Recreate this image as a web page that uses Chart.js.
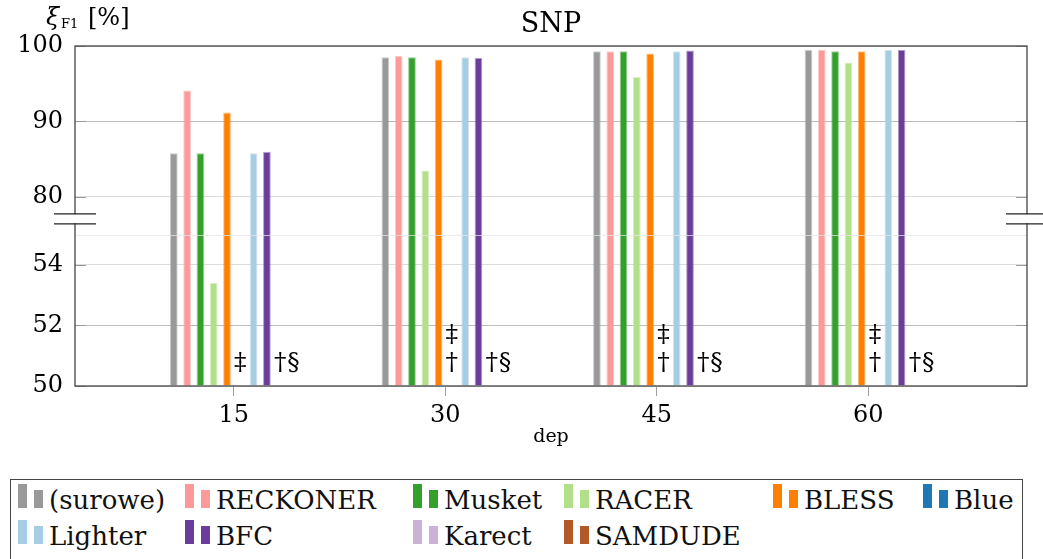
<!DOCTYPE html>
<html>
<head>
<meta charset="utf-8">
<title>SNP</title>
<script src="https://cdn.jsdelivr.net/npm/chart.js@4.4.1/dist/chart.umd.min.js"></script>
<style>
  html, body { margin: 0; padding: 0; background: #fff; overflow: hidden; }
  #wrap { position: relative; width: 1043px; height: 559px; }
  #chart { position: absolute; left: 0; top: 0; }
  #legend {
    position: absolute; left: 10px; top: 479px; width: 1013px; height: 110px;
    box-sizing: border-box; border: 1.3px solid #444; padding: 2.4px 0 0 7px;
    display: grid; grid-template-columns: 167px 228px 151px 209px 150px auto;
    grid-auto-rows: 36px;
    font-family: 'DejaVu Serif', 'Liberation Serif', serif;
    font-size: 26px; color: #111;
  }
  .item { position: relative; height: 36px; line-height: 36px; white-space: nowrap; }
  .item .b1, .item .b2 { position: absolute; bottom: 10px; width: 8.5px; }
  .item .b1 { left: 0; height: 24px; }
  .item .b2 { left: 16px; height: 18px; }
  .item .txt { position: absolute; left: 31px; top: 0; }
</style>
</head>
<body>
<div id="wrap">
  <canvas id="chart" width="1043" height="470"></canvas>
  <div id="legend"></div>
</div>
<script>
// Daten
const depths = [15, 30, 45, 60];
const methods = ['(surowe)', 'RECKONER', 'Musket', 'RACER', 'BLESS', 'Blue', 'Lighter', 'BFC', 'Karect', 'SAMDUDE'];

const surowe   = [85.8, 98.5, 99.3, 99.5];
const reckoner = [94.1, 98.7, 99.3, 99.5];
const musket   = [85.8, 98.5, 99.3, 99.3];
const racer    = [53.4, 83.5, 95.9, 97.8];
const bless    = [91.2, 98.2, 99.0, 99.3];
const blue     = [null, null, null, null];
const lighter  = [85.8, 98.5, 99.3, 99.5];
const bfc      = [86.0, 98.4, 99.4, 99.5];
const karect   = [null, null, null, null];
const samdude  = [null, null, null, null];

const yTicks = [50, 52, 54, 80, 90, 100];
const xTicks = [15, 30, 45, 60];

// Zeichen für fehlende Ergebnisse
const blueMarks    = [['‡'], ['‡', '†'], ['‡', '†'], ['‡', '†']];
const karectMarks  = [['†'], ['†'], ['†'], ['†']];
const samdudeMarks = [['§'], ['§'], ['§'], ['§']];

const colors = ['#999999', '#fb9a99', '#33a02c', '#b2df8a', '#ff7f00', '#1f78b4', '#a6cee3', '#6a3d9a', '#cab2d6', '#b15928'];
const series = [surowe, reckoner, musket, racer, bless, blue, lighter, bfc, karect, samdude];

const serif = "'DejaVu Serif', 'Liberation Serif', serif";

// unterbrochene y-Achse: 50..55 unten, 75..100 oben
const lowEnd = 55;
const highStart = 75;
const lowShare = 0.445;
const breakAt = 77.1;

class BrokenLinearScale extends Chart.LinearScale {
  static id = 'brokenLinear';
  static defaults = Chart.LinearScale.defaults;

  toShare(v) {
    if (v <= lowEnd) return (v - this.min) / (lowEnd - this.min) * lowShare;
    if (v >= highStart) return lowShare + (v - highStart) / (this.max - highStart) * (1 - lowShare);
    return lowShare;
  }
  getPixelForValue(value) {
    return this.getPixelForDecimal(this.toShare(value));
  }
  getValueForPixel(pixel) {
    const d = this.getDecimalForPixel(pixel);
    if (d <= lowShare) return this.min + d / lowShare * (lowEnd - this.min);
    return highStart + (d - lowShare) / (1 - lowShare) * (this.max - highStart);
  }
}
Chart.register(BrokenLinearScale);

Chart.defaults.font.family = serif;
Chart.defaults.font.size = 24;
Chart.defaults.color = '#000';

function drawMarks(ctx, chart, datasetIndex, marks, baseY) {
  const meta = chart.getDatasetMeta(datasetIndex);
  meta.data.forEach((bar, i) => {
    const lines = marks[i];
    for (let k = 0; k < lines.length; k++) {
      ctx.fillText(lines[k], bar.x, baseY - (lines.length - 1 - k) * 28);
    }
  });
}

const framePlugin = {
  id: 'frame',
  afterDatasetsDraw(chart) {
    const {ctx, chartArea: a, scales: {y}} = chart;
    ctx.save();
    // feine Linie an der Nahtstelle
    const seam = Math.round(y.getPixelForValue(highStart)) + 0.5;
    ctx.strokeStyle = 'rgba(228,228,228,0.75)';
    ctx.lineWidth = 1;
    ctx.beginPath();
    ctx.moveTo(a.left, seam);
    ctx.lineTo(a.right, seam);
    ctx.stroke();

    ctx.font = '25px ' + serif;
    ctx.fillStyle = '#000';
    ctx.textAlign = 'center';
    ctx.textBaseline = 'alphabetic';
    const baseY = y.getPixelForValue(y.min) - 16;
    drawMarks(ctx, chart, 5, blueMarks, baseY);
    drawMarks(ctx, chart, 8, karectMarks, baseY);
    drawMarks(ctx, chart, 9, samdudeMarks, baseY);
    ctx.restore();
  },
  afterDraw(chart) {
    const {ctx, chartArea: a, scales: {y}} = chart;
    ctx.save();

    // kleine Striche nach innen
    ctx.strokeStyle = '#9a9a9a';
    ctx.lineWidth = 1;
    yTicks.forEach(t => {
      const py = Math.round(y.getPixelForValue(t)) + 0.5;
      ctx.beginPath();
      ctx.moveTo(a.left, py); ctx.lineTo(a.left + 11, py);
      ctx.moveTo(a.right - 11, py); ctx.lineTo(a.right, py);
      ctx.stroke();
    });

    // Rahmen
    ctx.strokeStyle = '#444';
    ctx.lineWidth = 1.3;
    ctx.strokeRect(a.left, a.top, a.right - a.left, a.bottom - a.top);

    // Achsenbruch
    const mid = y.getPixelForValue(breakAt);
    [a.left, a.right].forEach(px => {
      ctx.fillStyle = '#fff';
      ctx.fillRect(px - 2, mid - 4.5, 4, 9);
      ctx.strokeStyle = '#222';
      ctx.lineWidth = 1.2;
      ctx.beginPath();
      ctx.moveTo(px - 21, mid - 5); ctx.lineTo(px + 21, mid - 5);
      ctx.moveTo(px - 21, mid + 5); ctx.lineTo(px + 21, mid + 5);
      ctx.stroke();
    });

    // Texte
    ctx.fillStyle = '#000';
    ctx.textBaseline = 'alphabetic';
    ctx.textAlign = 'center';
    ctx.font = '27px ' + serif;
    ctx.fillText('SNP', (a.left + a.right) / 2, 32);
    ctx.font = '19px ' + serif;
    ctx.fillText('dep', (a.left + a.right) / 2, a.bottom + 56);

    ctx.textAlign = 'left';
    ctx.font = 'italic 24px ' + serif;
    ctx.fillText('ξ', 46, 25);
    ctx.font = '13px ' + serif;
    ctx.fillText('F1', 61, 28);
    ctx.font = '24px ' + serif;
    ctx.fillText('[%]', 88, 25);
    ctx.restore();
  }
};

const datasets = methods.map((name, i) => ({
  label: name,
  data: depths.map((d, k) => ({x: d, y: series[i][k]})),
  backgroundColor: colors[i],
  borderColor: colors[i] + '80',
  borderWidth: 1,
  base: 50,
  categoryPercentage: 0.6286,
  barPercentage: 0.58
}));

const chart = new Chart(document.getElementById('chart'), {
  type: 'bar',
  data: { datasets: datasets },
  options: {
    responsive: false,
    animation: false,
    layout: { padding: { top: 46, right: 16, left: 0, bottom: 0 } },
    plugins: { legend: { display: false }, tooltip: { enabled: false } },
    scales: {
      x: {
        type: 'linear',
        offset: false,
        min: 3.75,
        max: 71.25,
        afterBuildTicks: s => { s.ticks = xTicks.map(v => ({value: v})); },
        afterFit: s => { s.height = 84; },
        grid: { offset: false, drawOnChartArea: false, drawTicks: true, tickLength: 10, color: '#a0a0a0' },
        border: { display: false },
        ticks: { padding: 5, maxRotation: 0 }
      },
      y: {
        type: 'brokenLinear',
        min: 50,
        max: 100,
        afterBuildTicks: s => { s.ticks = yTicks.map(v => ({value: v})); },
        afterFit: s => { s.width = 75; },
        grid: {
          drawTicks: false,
          color: c => (c.tick && (c.tick.value === 90 || c.tick.value === 52)) ? '#bcbcbc' : '#dcdcdc'
        },
        border: { display: false },
        ticks: { padding: 12 }
      }
    }
  },
  plugins: [framePlugin]
});

// Legende als HTML-Raster
const legendBox = document.getElementById('legend');
chart.data.datasets.forEach(ds => {
  const item = document.createElement('div');
  item.className = 'item';
  const b1 = document.createElement('span');
  b1.className = 'b1';
  b1.style.background = ds.backgroundColor;
  const b2 = document.createElement('span');
  b2.className = 'b2';
  b2.style.background = ds.backgroundColor;
  const txt = document.createElement('span');
  txt.className = 'txt';
  txt.textContent = ds.label;
  item.appendChild(b1);
  item.appendChild(b2);
  item.appendChild(txt);
  legendBox.appendChild(item);
});
</script>
</body>
</html>
